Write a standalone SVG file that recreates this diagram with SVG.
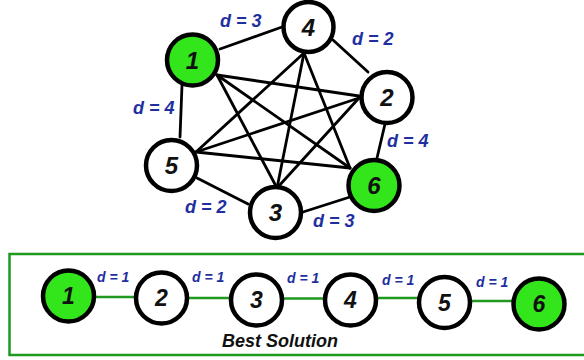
<svg xmlns="http://www.w3.org/2000/svg" width="584" height="360" viewBox="0 0 584 360">
<style>
.n{fill:#fff;stroke:#000;stroke-width:4.5}
.g{fill:#33e61c}
.t{font-family:"Liberation Sans",Arial,sans-serif;font-weight:bold;font-style:italic;font-size:24px;fill:#111;text-anchor:middle}
.tb{font-size:23px}
.d{font-family:"Liberation Sans",Arial,sans-serif;font-weight:bold;font-style:italic;font-size:18px;fill:#1f2f9f}
.ds{font-size:14px}
.e{stroke:#000;stroke-width:2.8;stroke-linecap:round}
.ge{stroke:#1f991f;stroke-width:2.7}
</style>
<rect width="584" height="360" fill="#fff"/>
<g id="connectors">
<line class="e" x1="220" y1="49" x2="282" y2="27"/>
<line class="e" x1="333" y1="40" x2="368" y2="72"/>
<line class="e" x1="385" y1="124" x2="377" y2="158"/>
<line class="e" x1="350" y1="197" x2="303" y2="212"/>
<line class="e" x1="248" y1="204" x2="197" y2="178"/>
<line class="e" x1="180" y1="137" x2="182" y2="85"/>
<line class="e" x1="217" y1="75" x2="359" y2="96"/>
<line class="e" x1="217" y1="75" x2="350" y2="168"/>
<line class="e" x1="217" y1="75" x2="277" y2="188"/>
<line class="e" x1="304" y1="53" x2="196" y2="152"/>
<line class="e" x1="304" y1="53" x2="277" y2="188"/>
<line class="e" x1="304" y1="53" x2="350" y2="168"/>
<line class="e" x1="359" y1="98" x2="196" y2="152"/>
<line class="e" x1="359" y1="98" x2="277" y2="188"/>
<line class="e" x1="196" y1="152" x2="350" y2="168"/>
<line class="ge" x1="90" y1="297" x2="140" y2="297"/>
<line class="ge" x1="184" y1="298" x2="235" y2="298"/>
<line class="ge" x1="278" y1="298.5" x2="329" y2="298.5"/>
<line class="ge" x1="372" y1="298" x2="423" y2="298"/>
<line class="ge" x1="466" y1="301" x2="517" y2="301"/>
</g>
<g id="labels">
<text class="d" x="220" y="27">d = 3</text>
<text class="d" x="352" y="45">d = 2</text>
<text class="d" x="133" y="114">d = 4</text>
<text class="d" x="387" y="147">d = 4</text>
<text class="d" x="185" y="213">d = 2</text>
<text class="d" x="313" y="227">d = 3</text>
<text class="d ds" x="97" y="282">d = 1</text>
<text class="d ds" x="192" y="282">d = 1</text>
<text class="d ds" x="287" y="283">d = 1</text>
<text class="d ds" x="382" y="285">d = 1</text>
<text class="d ds" x="476" y="287">d = 1</text>
</g>
<g id="node-1"><circle class="n g" cx="192.5" cy="60" r="25.5"/><text class="t" x="192.5" y="68.5">1</text></g>
<g id="node-4"><circle class="n" cx="308.5" cy="27" r="25"/><text class="t" x="308.5" y="35.5">4</text></g>
<g id="node-2"><circle class="n" cx="387" cy="97.5" r="25.5"/><text class="t" x="387" y="106">2</text></g>
<g id="node-5"><circle class="n" cx="171.5" cy="165.5" r="25.5"/><text class="t" x="171.5" y="174">5</text></g>
<g id="node-6"><circle class="n g" cx="374" cy="185.5" r="25.5"/><text class="t" x="374" y="194">6</text></g>
<g id="node-3"><circle class="n" cx="275.5" cy="212.5" r="25.5"/><text class="t" x="275.5" y="221">3</text></g>
<g id="best-solution">
<rect x="9.5" y="254" width="580" height="101" fill="none" stroke="#1f991f" stroke-width="2.5"/>
<text x="280" y="347" style="font-family:'Liberation Sans',Arial,sans-serif;font-weight:bold;font-style:italic;font-size:18px;fill:#111;text-anchor:middle">Best Solution</text>
</g>
<g id="b-node-1"><circle class="n g" cx="68.5" cy="296" r="25.5"/><text class="t tb" x="68.5" y="304">1</text></g>
<g id="b-node-2"><circle class="n" cx="161.5" cy="298" r="25.5"/><text class="t tb" x="161.5" y="306">2</text></g>
<g id="b-node-3"><circle class="n" cx="256.5" cy="300" r="25.5"/><text class="t tb" x="256.5" y="308">3</text></g>
<g id="b-node-4"><circle class="n" cx="350.5" cy="300" r="25.5"/><text class="t tb" x="350.5" y="308">4</text></g>
<g id="b-node-5"><circle class="n" cx="444.5" cy="302.5" r="25.5"/><text class="t tb" x="444.5" y="310.5">5</text></g>
<g id="b-node-6"><circle class="n g" cx="539" cy="304" r="25.5"/><text class="t tb" x="539" y="312">6</text></g>
</svg>
